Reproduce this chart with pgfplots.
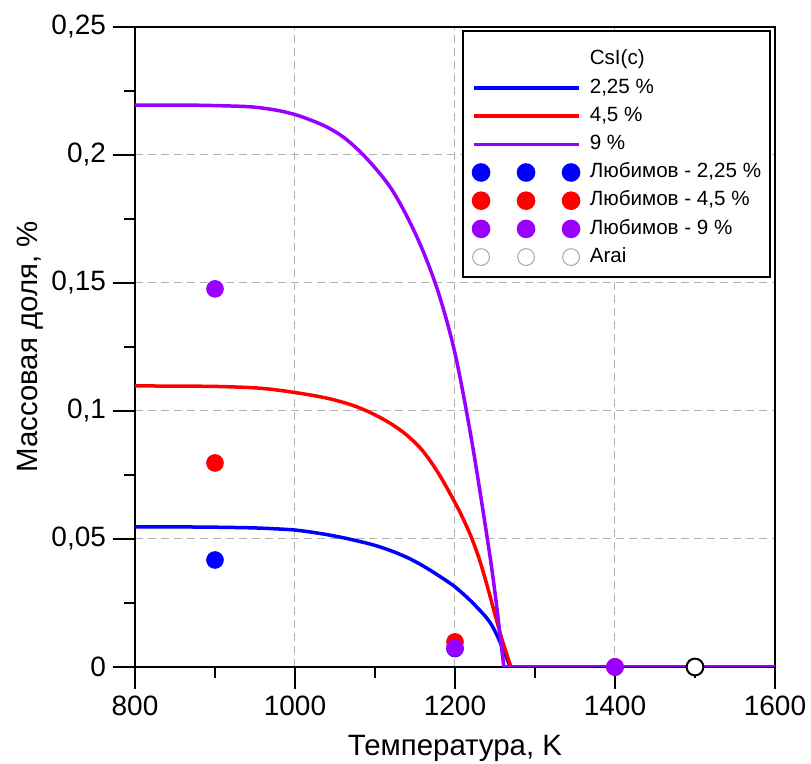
\documentclass[border=0pt]{standalone}
\usepackage{pgfplots}
\pgfplotsset{compat=1.18}
\usepackage{fontspec}
\setmainfont{Liberation Sans}
\definecolor{cblue}{RGB}{0,0,255}
\definecolor{cred}{RGB}{255,0,0}
\definecolor{cpurp}{RGB}{153,0,255}
\begin{document}
\begin{tikzpicture}
\begin{axis}[
 at={(0,0)}, anchor=south west,
 scale only axis, width=320pt, height=320pt,
 xmin=800, xmax=1600, ymin=0, ymax=0.25,
 xtick={800,1000,1200,1400,1600},
 ytick={0,0.05,0.1,0.15,0.2,0.25},
 minor x tick num=1, minor y tick num=1,
 tick align=outside, tick pos=left,
 major tick length=11pt, minor tick length=5.5pt,
 every tick/.style={black, line width=1pt},
 axis line style={line width=1pt},
 grid=major,
 major grid style={draw=gray!60, line width=0.5pt, dash pattern=on 4pt off 2.5pt},
 /pgf/number format/assume math mode=true,
 /pgf/number format/use comma,
 /pgf/number format/1000 sep={},
 yticklabel style={/pgf/number format/fixed, /pgf/number format/precision=3},
 scaled y ticks=false,
 tick label style={font=\fontsize{14}{16}\selectfont},
 label style={font=\fontsize{14.7}{17}\selectfont},
 xlabel={Температура, K},
 ylabel={Массовая доля, \%},
 xlabel style={at={(axis description cs:0.5,-0.139)}, anchor=base},
 ylabel style={at={(axis description cs:-0.153,0.5)}, anchor=base},
 legend cell align=left,
 legend image code/.code={\draw[#1] (0pt,0pt) -- (52.5pt,0pt);},
 legend style={at={(rel axis cs:1,1)}, anchor=north east, xshift=-2pt, yshift=-1.5pt,
   draw=black, line width=0.9pt, fill=white, font=\fontsize{10.3}{12}\selectfont,
   inner xsep=4.5pt, inner ysep=5pt, row sep=4.3pt,
   nodes={inner sep=0pt, text height=7.5pt, text depth=2.3pt},
   /tikz/row 1/.style={nodes={text height=12pt}},
   /tikz/every odd column/.append style={column sep=4.5pt}},
 marks3/.style={legend image code/.code={\draw[##1, only marks, mark repeat=1] plot coordinates {(3.5pt,0pt) (26pt,0pt) (48.5pt,0pt)};}},
 marks3gray/.style={legend image code/.code={\draw[##1, only marks, mark repeat=1, mark options={draw=gray!70, line width=0.5pt}] plot coordinates {(3.5pt,0pt) (26pt,0pt) (48.5pt,0pt)};}},
]
\addlegendimage{empty legend}
\addlegendentry{CsI(c)}

\addplot[cblue, line width=1.75pt, smooth, tension=0.55] coordinates {
(800,0.0547) (860,0.0547) (900,0.0546) (940,0.0544) (960,0.0542) (980,0.0539)
(1000,0.0535) (1020,0.0527) (1040,0.0517) (1060,0.0505) (1080,0.0491) (1100,0.0475)
(1120,0.0454) (1140,0.0428) (1160,0.0395) (1180,0.0356) (1200,0.0313) (1220,0.0257)
(1240,0.0190) (1250,0.0140) (1260,0.0070) (1269,0.0)};
\addlegendentry{2,25 \%}
\addplot[cblue, line width=1.75pt, forget plot] coordinates {(1269,0) (1600,0)};

\addplot[cred, line width=1.75pt, smooth, tension=0.55] coordinates {
(800,0.1098) (860,0.1097) (900,0.1096) (940,0.1092) (960,0.1088) (980,0.1081)
(1000,0.1072) (1020,0.1062) (1040,0.1050) (1060,0.1034) (1080,0.1013) (1100,0.0985)
(1120,0.0950) (1140,0.0905) (1160,0.0843) (1180,0.0753) (1200,0.0642) (1210,0.0580)
(1220,0.0510) (1230,0.0425) (1240,0.0320) (1250,0.0205) (1260,0.0095) (1270,0.0)};
\addlegendentry{4,5 \%}
\addplot[cred, line width=1.75pt, forget plot] coordinates {(1270,0) (1600,0)};

\addplot[cpurp, line width=1.75pt, smooth, tension=0.55] coordinates {
(800,0.2195) (860,0.2195) (900,0.2193) (940,0.2189) (960,0.2183) (980,0.2173)
(1000,0.2158) (1020,0.2136) (1040,0.2109) (1060,0.2071) (1080,0.2017) (1100,0.1950)
(1120,0.1870) (1140,0.1760) (1160,0.1625) (1180,0.1455) (1200,0.1225) (1220,0.0900)
(1240,0.0510) (1250,0.0290) (1261,0.0)};
\addlegendentry{9 \%}
\addplot[cpurp, line width=1.75pt, forget plot] coordinates {(1261,0) (1600,0)};

\addplot[only marks, mark=*, mark size=4.2pt, color=cblue, marks3] coordinates {
(900,0.0418) (1200,0.0072) (1400,0)};
\addlegendentry{Любимов - 2,25 \%}

\addplot[only marks, mark=*, mark size=4.2pt, color=cred, marks3] coordinates {
(900,0.0797) (1200,0.0098) (1400,0)};
\addlegendentry{Любимов - 4,5 \%}

\addplot[only marks, mark=*, mark size=4.2pt, color=cpurp, marks3] coordinates {
(900,0.1477) (1200,0.0074) (1400,0)};
\addlegendentry{Любимов - 9 \%}

\addplot[only marks, mark=*, mark size=4.2pt, draw=black, fill=white, mark options={line width=1pt}, marks3gray] coordinates {
(1500,0)};
\addlegendentry{Arai}
\end{axis}
\pgfresetboundingbox
\path (-67.5pt,-48.5pt) rectangle (338pt,333.5pt);
\end{tikzpicture}
\end{document}
